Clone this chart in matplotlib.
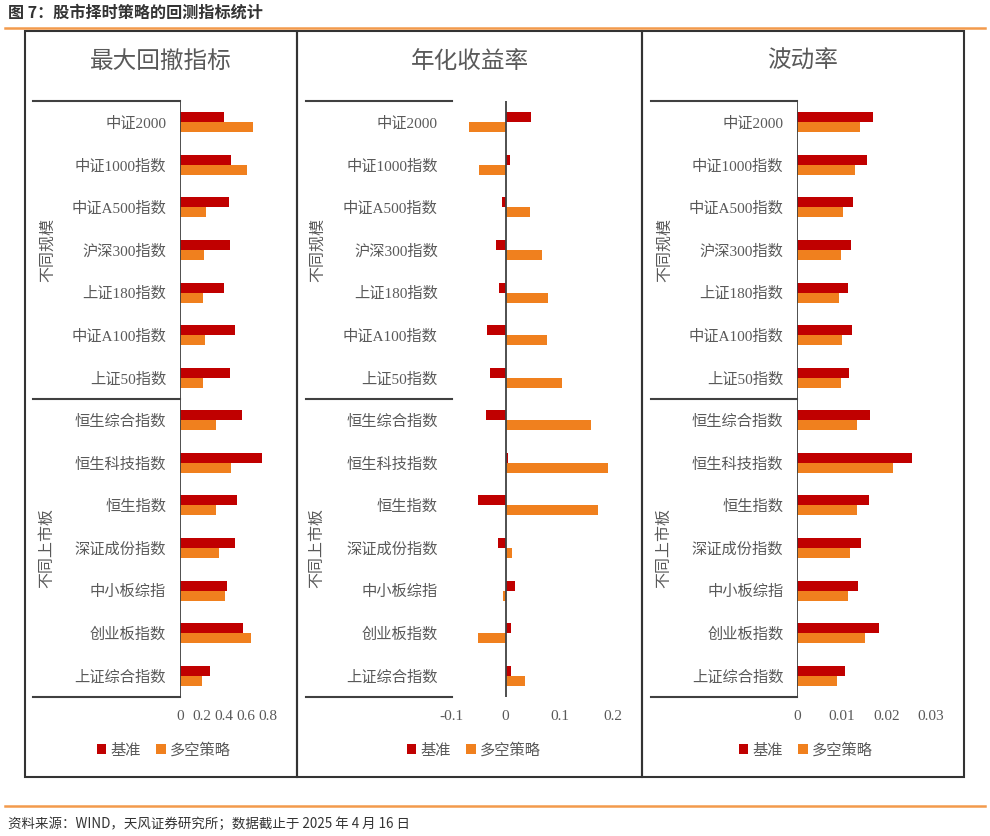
import matplotlib
matplotlib.use('Agg')
import matplotlib.pyplot as plt
from matplotlib.lines import Line2D
from matplotlib.patches import Rectangle

plt.rcParams['font.family'] = ['Noto Sans CJK SC', 'DejaVu Sans']

categories = ['中证2000', '中证1000指数', '中证A500指数', '沪深300指数', '上证180指数',
              '中证A100指数', '上证50指数', '恒生综合指数', '恒生科技指数', '恒生指数',
              '深证成份指数', '中小板综指', '创业板指数', '上证综合指数']
groups = ['不同规模', '不同上市板']
series_names = ['基准', '多空策略']

drawdown_base = [0.40, 0.46, 0.44, 0.45, 0.40, 0.50, 0.45, 0.56, 0.74, 0.52, 0.50, 0.43, 0.57, 0.27]
drawdown_ls = [0.66, 0.61, 0.24, 0.22, 0.21, 0.23, 0.21, 0.33, 0.46, 0.33, 0.35, 0.41, 0.64, 0.20]

ret_base = [0.047, 0.008, -0.007, -0.018, -0.013, -0.035, -0.029, -0.037, 0.005, -0.052, -0.014, 0.017, 0.010, 0.011]
ret_ls = [-0.068, -0.049, 0.046, 0.068, 0.079, 0.076, 0.104, 0.158, 0.191, 0.171, 0.012, -0.004, -0.052, 0.037]

vol_base = [0.0169, 0.0156, 0.0124, 0.0120, 0.0113, 0.0122, 0.0117, 0.0163, 0.0258, 0.0160, 0.0144, 0.0137, 0.0184, 0.0106]
vol_ls = [0.0140, 0.0130, 0.0102, 0.0099, 0.0093, 0.0101, 0.0097, 0.0135, 0.0214, 0.0133, 0.0119, 0.0113, 0.0153, 0.0088]

dd_ticks = [0, 0.2, 0.4, 0.6, 0.8]
dd_ticklabels = ['0', '0.2', '0.4', '0.6', '0.8']
ret_ticks = [-0.1, 0, 0.1, 0.2]
ret_ticklabels = ['-0.1', '0', '0.1', '0.2']
vol_ticks = [0, 0.01, 0.02, 0.03]
vol_ticklabels = ['0', '0.01', '0.02', '0.03']

RED = '#C00000'
ORANGE = '#F0801E'
GRAY = '#595959'
LINE = '#404040'
SERIF = ['Liberation Serif', 'Noto Sans CJK SC']

W, H = 990, 836
fig = plt.figure(figsize=(W / 100, H / 100), dpi=100)


def fx(px):
    return px / W


def fy(py):
    return 1 - py / H


def hline(x0, x1, y, color, lw):
    fig.add_artist(Line2D([fx(x0), fx(x1)], [fy(y), fy(y)],
                          transform=fig.transFigure, color=color, lw=lw))


# header / footer
fig.text(fx(8), fy(13), '图 7：股市择时策略的回测指标统计', fontsize=11.6,
         fontweight='bold', color='#333333', va='center', ha='left')
hline(5, 985, 28, '#F39A4C', 1.8)
hline(5, 985, 806, '#F39A4C', 1.8)
fig.text(fx(8), fy(824), '资料来源：WIND，天风证券研究所；数据截止于 2025 年 4 月 16 日',
         fontsize=9.7, color='#333333', va='center', ha='left')

top_px, bot_px = 101, 697
n = len(categories)
pos = list(range(n))
bw = 0.235

panels = [
    # title, base, ls, xlim, ticks, labels, ax left, ax right, box x0, box x1, line x0, group x, title x, legend x
    ('最大回撤指标', drawdown_base, drawdown_ls, (0, 0.8), dd_ticks, dd_ticklabels,
     180, 268.3, 25, 297, 33, 47, 161, 164),
    ('年化收益率', ret_base, ret_ls, (-0.1, 0.2), ret_ticks, ret_ticklabels,
     451.7, 613.3, 297, 642, 306, 317, 470, 474),
    ('波动率', vol_base, vol_ls, (0, 0.03), vol_ticks, vol_ticklabels,
     797.3, 931, 642, 964, 651, 664, 803, 806),
]

for (title, base, ls, xlim, ticks, tlabels, axl, axr, bx0, bx1, lx0, gx, tx, legx) in panels:
    # panel frame
    fig.add_artist(Rectangle((fx(bx0), fy(777)), fx(bx1) - fx(bx0), fy(31) - fy(777),
                             transform=fig.transFigure, fill=False, edgecolor='#333333', lw=1.5))
    fig.text(fx(tx), fy(61), title, fontsize=17, color=GRAY, ha='center', va='center')

    ax = fig.add_axes([fx(axl), fy(bot_px), fx(axr) - fx(axl), fy(top_px) - fy(bot_px)])
    ax.set_facecolor('none')
    ax.barh([p - bw / 2 for p in pos], base, height=bw, color=RED, label=series_names[0])
    ax.barh([p + bw / 2 for p in pos], ls, height=bw, color=ORANGE, label=series_names[1])
    ax.set_xlim(*xlim)
    ax.set_ylim(n - 0.5, -0.5)
    ax.axvline(0, color=LINE, lw=1.3)
    for s in ax.spines.values():
        s.set_visible(False)
    ax.set_yticks(pos)
    ax.set_yticklabels(categories, fontsize=11, color=GRAY, family=SERIF)
    ax.set_xticks(ticks)
    ax.set_xticklabels(tlabels, fontsize=11, color=GRAY, family=SERIF)
    ax.tick_params(axis='y', length=0, pad=10)
    ax.tick_params(axis='x', length=0, pad=9)

    # category group box
    mid_px = top_px + (bot_px - top_px) * 7 / n
    for y in (top_px, mid_px, bot_px):
        hline(lx0, axl, y, LINE, 1.5)
    fig.text(fx(gx), fy((top_px + mid_px) / 2), groups[0], rotation=90, fontsize=11.5,
             color=GRAY, ha='center', va='center')
    fig.text(fx(gx), fy((mid_px + bot_px) / 2), groups[1], rotation=90, fontsize=11.5,
             color=GRAY, ha='center', va='center')

    leg = ax.legend(loc='center', bbox_to_anchor=(fx(legx), fy(750)),
                    bbox_transform=fig.transFigure, ncol=2, frameon=False,
                    handlelength=0.6, handleheight=0.6, handletextpad=0.3,
                    columnspacing=1.0, fontsize=11)
    for t in leg.get_texts():
        t.set_color(GRAY)

fig.savefig('out.png', dpi=100)
